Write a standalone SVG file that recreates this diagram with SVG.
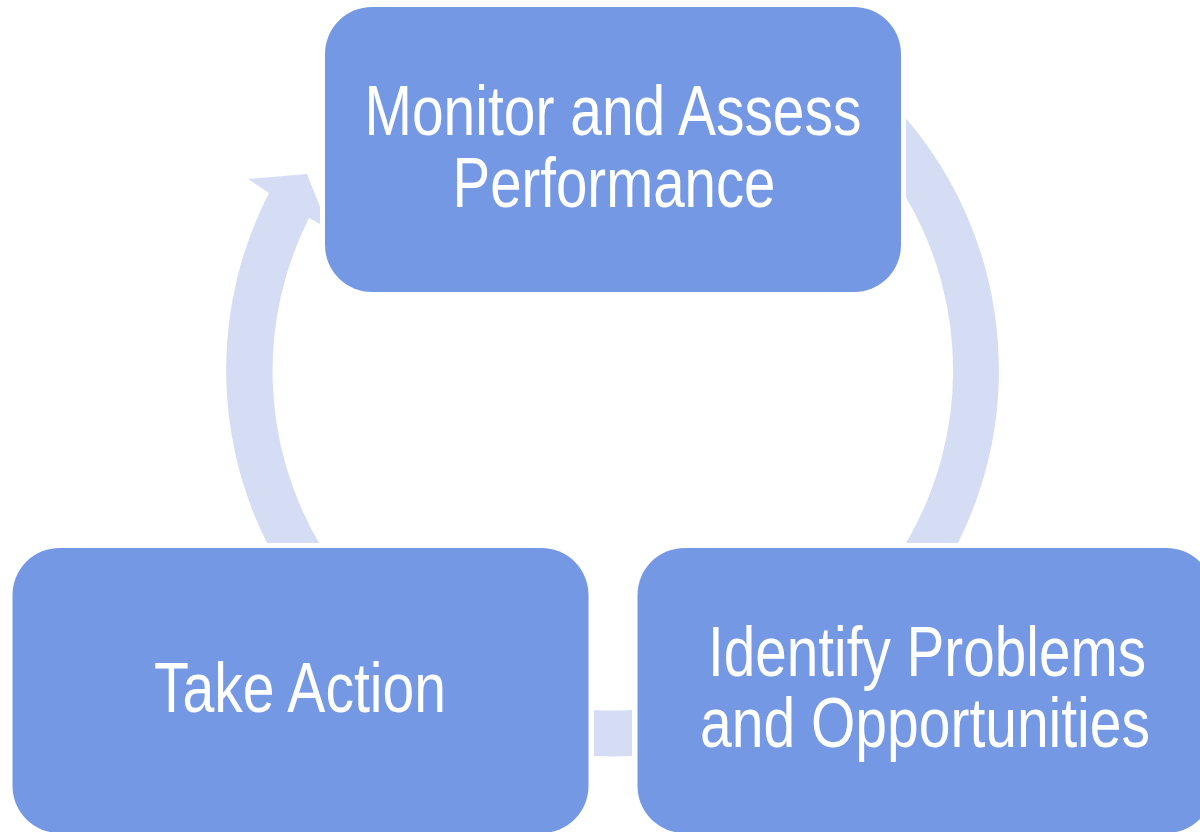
<svg xmlns="http://www.w3.org/2000/svg" width="1200" height="832" viewBox="0 0 1200 832">
  <style>
    .node { fill: #7598E5; }
    .arc { fill: #D5DDF5; }
    .label { fill: #FFFFFF; font-family: "Liberation Sans", Arial, sans-serif; font-size: 70px; text-anchor: middle; }
  </style>
  <rect width="1200" height="832" fill="#FFFFFF"/>

  <!-- cycle band: circle centre (612.5, 370), outer r 386.5, inner r 340.5 -->
  <g id="connectors">
    <!-- right arc, from top node down to the lower right node -->
    <path class="arc" d="M 906,118.5 A 386.5 386.5 0 0 1 958,543 L 906,543 A 340.5 340.5 0 0 0 906,197.4 Z"/>
    <!-- bottom segment between the two lower nodes -->
    <path class="arc" d="M 632,756 A 386.5 386.5 0 0 1 594,756 L 594,710 A 340.5 340.5 0 0 0 632,710 Z"/>
    <!-- left arc with arrowhead pointing into the top node -->
    <path class="arc" d="M 267,543 A 386.5 386.5 0 0 1 269,193 L 248,179 L 307,174 L 320,207 L 320,224 L 309,218 A 340.5 340.5 0 0 0 319,543 Z"/>
  </g>

  <g id="node-monitor">
    <rect class="node" x="325" y="7" width="576" height="285" rx="47" ry="47"/>
    <text class="label" x="613" y="135" textLength="497" lengthAdjust="spacingAndGlyphs">Monitor and Assess</text>
    <text class="label" x="614" y="207" textLength="323" lengthAdjust="spacingAndGlyphs">Performance</text>
  </g>

  <g id="node-identify">
    <rect class="node" x="637.5" y="548" width="576" height="285" rx="47" ry="47"/>
    <text class="label" x="927" y="676" textLength="438" lengthAdjust="spacingAndGlyphs">Identify Problems</text>
    <text class="label" x="925" y="747" textLength="450" lengthAdjust="spacingAndGlyphs">and Opportunities</text>
  </g>

  <g id="node-action">
    <rect class="node" x="12.5" y="548" width="576" height="285" rx="47" ry="47"/>
    <text class="label" x="300" y="712" textLength="292" lengthAdjust="spacingAndGlyphs">Take Action</text>
  </g>
</svg>
